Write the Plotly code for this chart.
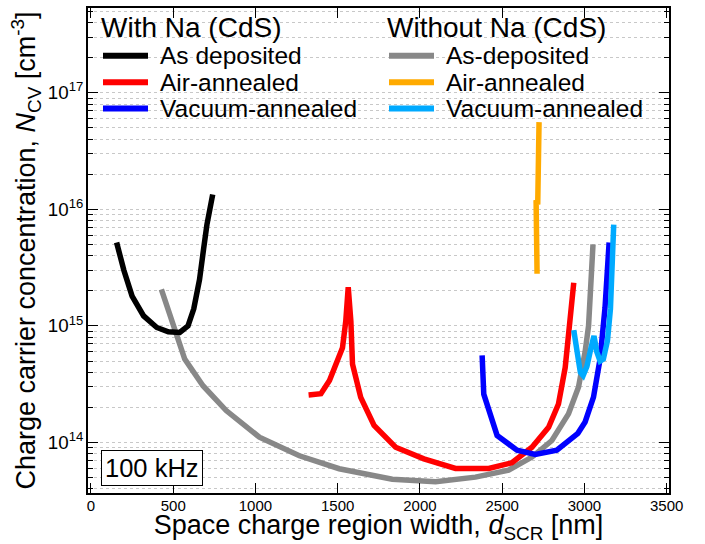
import plotly.graph_objects as go

# --- data: space charge region width (nm) vs. carrier concentration (cm^-3) ---
# With Na (CdS)
na_dep_x = [156, 200, 250, 320, 400, 470, 540, 590, 625, 660, 685, 705, 740]
na_dep_y = [5.2e15, 3.0e15, 1.8e15, 1.22e15, 9.7e14, 8.9e14, 8.8e14, 1.0e15,
            1.4e15, 2.5e15, 4.6e15, 7.4e15, 1.34e16]

na_air_x = [1323, 1398, 1450, 1489, 1529, 1549, 1564, 1580, 1590, 1640, 1721,
            1852, 2024, 2216, 2418, 2559, 2681, 2782, 2842, 2883, 2913, 2935]
na_air_y = [2.56e14, 2.62e14, 3.4e14, 4.55e14, 6.5e14, 1.1e15, 2.15e15, 1.1e15,
            4.7e14, 2.44e14, 1.4e14, 9.1e13, 7.25e13, 6.0e13, 6.0e13, 6.7e13,
            9.1e13, 1.35e14, 2.14e14, 4.4e14, 1.1e15, 2.35e15]

na_vac_x = [2378, 2388, 2469, 2590, 2701, 2832, 2960, 3004, 3055, 3095, 3125, 3135, 3150]
na_vac_y = [5.6e14, 2.6e14, 1.15e14, 8.6e13, 7.9e13, 8.6e13, 1.2e14, 1.5e14,
            2.45e14, 5.2e14, 1.43e15, 2.76e15, 5.2e15]

# Without Na (CdS)
nona_dep_x = [428, 509, 570, 681, 822, 1024, 1267, 1509, 1832, 2095, 2337, 2539,
              2681, 2802, 2903, 2964, 3004, 3025, 3040, 3052]
nona_dep_y = [2.06e15, 9.7e14, 5.2e14, 3.07e14, 1.88e14, 1.11e14, 7.7e13, 5.96e13,
              4.85e13, 4.6e13, 5.05e13, 5.8e13, 7.5e13, 1.04e14, 1.76e14, 3.0e14,
              6.0e14, 1.0e15, 2.1e15, 5.0e15]

nona_air_x = [2712, 2710, 2706, 2716, 2720, 2722, 2724]
nona_air_y = [2.8e15, 6.0e15, 1.2e16, 1.1e16, 2.0e16, 3.5e16, 5.6e16]

nona_vac_x = [2935, 2955, 2975, 2992, 3015, 3040, 3058, 3075, 3095, 3115, 3140,
              3158, 3170, 3178]
nona_vac_y = [9.2e14, 5.5e14, 4.0e14, 3.75e14, 4.5e14, 6.5e14, 8.2e14, 6.0e14,
              5.0e14, 5.2e14, 7.5e14, 1.4e15, 3.0e15, 7.4e15]

group_titles = ["With Na (CdS)", "Without Na (CdS)"]
series = [
    # (group, name, x, y, colour)
    (0, "As deposited", na_dep_x, na_dep_y, "#000000"),
    (0, "Air-annealed", na_air_x, na_air_y, "#ff0000"),
    (0, "Vacuum-annealed", na_vac_x, na_vac_y, "#0000ff"),
    (1, "As-deposited", nona_dep_x, nona_dep_y, "#888888"),
    (1, "Air-annealed", nona_air_x, nona_air_y, "#ffaa00"),
    (1, "Vacuum-annealed", nona_vac_x, nona_vac_y, "#00aaff"),
]

FONT = "Liberation Sans, Arial, sans-serif"
W, H = 705, 544
ML, MR, MT, MB = 88, 36, 6, 51
PW, PH = W - ML - MR, H - MT - MB


def px(x):
    return (x - ML) / PW


def py(y):
    return (H - MB - y) / PH


fig = go.Figure()

# draw order: without-Na grey first so the black curve sits on top
draw_order = [3, 0, 1, 2, 4, 5]
for i in draw_order:
    g, name, xs, ys, col = series[i]
    fig.add_trace(go.Scatter(
        x=xs, y=ys, mode="lines", name=name, showlegend=False,
        line=dict(color=col, width=5.5),
    ))

# two-column legend built from the series definitions
annotations = []
shapes = []
col_x = [100, 386]
for g, title in enumerate(group_titles):
    annotations.append(dict(
        text=title, x=px(col_x[g] - 1), y=py(26), xref="paper", yref="paper",
        xanchor="left", yanchor="middle", showarrow=False,
        font=dict(family=FONT, size=28, color="black"),
    ))
    rows = [s for s in series if s[0] == g]
    for r, (_, name, _, _, col) in enumerate(rows):
        yy = 54 + r * 26.5
        sx = col_x[g] + 3
        shapes.append(dict(
            type="line", xref="paper", yref="paper",
            x0=px(sx), x1=px(sx + 45), y0=py(yy), y1=py(yy),
            line=dict(color=col, width=6),
        ))
        annotations.append(dict(
            text=name, x=px(sx + 55), y=py(yy), xref="paper", yref="paper",
            xanchor="left", yanchor="middle", showarrow=False,
            font=dict(family=FONT, size=24.5, color="black"),
        ))

annotations.append(dict(
    text="100 kHz", x=px(101), y=py(468), xref="paper", yref="paper",
    xanchor="left", yanchor="middle", showarrow=False,
    bordercolor="black", borderwidth=1, borderpad=3, bgcolor="white",
    font=dict(family=FONT, size=25.5, color="black"),
))

fig.update_layout(
    width=W, height=H,
    margin=dict(l=ML, r=MR, t=MT, b=MB, pad=0),
    paper_bgcolor="white", plot_bgcolor="white",
    font=dict(family=FONT, color="black"),
    annotations=annotations, shapes=shapes,
    showlegend=False,
)

fig.update_xaxes(
    range=[-18, 3514], tickmode="array",
    tickvals=[0, 500, 1000, 1500, 2000, 2500, 3000, 3500],
    ticks="inside", ticklen=10, tickcolor="black",
    showline=True, linecolor="black", linewidth=1.5, mirror="ticks",
    showgrid=False, zeroline=False, ticklabelstandoff=-2,
    tickfont=dict(family=FONT, size=15, color="black"),
    title=dict(text="Space charge region width, <i>d</i><sub>SCR</sub> [nm]",
               font=dict(family=FONT, size=27, color="black"), standoff=3),
)

fig.update_yaxes(
    type="log", range=[13.567, 17.727],
    dtick=1, tick0=0, exponentformat="power", showexponent="all",
    ticks="inside", ticklen=10, tickcolor="black",
    showline=True, linecolor="black", linewidth=1.5, mirror="ticks",
    showgrid=True, gridcolor="#c8c8c8", griddash="dot", gridwidth=1,
    zeroline=False,
    minor=dict(dtick="D1", ticks="inside", ticklen=5, tickcolor="black",
               showgrid=True, gridcolor="#c8c8c8", griddash="dot", gridwidth=1),
    tickfont=dict(family=FONT, size=15, color="black"),
    title=dict(text="Charge carrier concentration, <i>N</i><sub>CV</sub> [cm<sup>-3</sup>]",
               font=dict(family=FONT, size=27, color="black"), standoff=4),
)

fig.write_html("out.html")
